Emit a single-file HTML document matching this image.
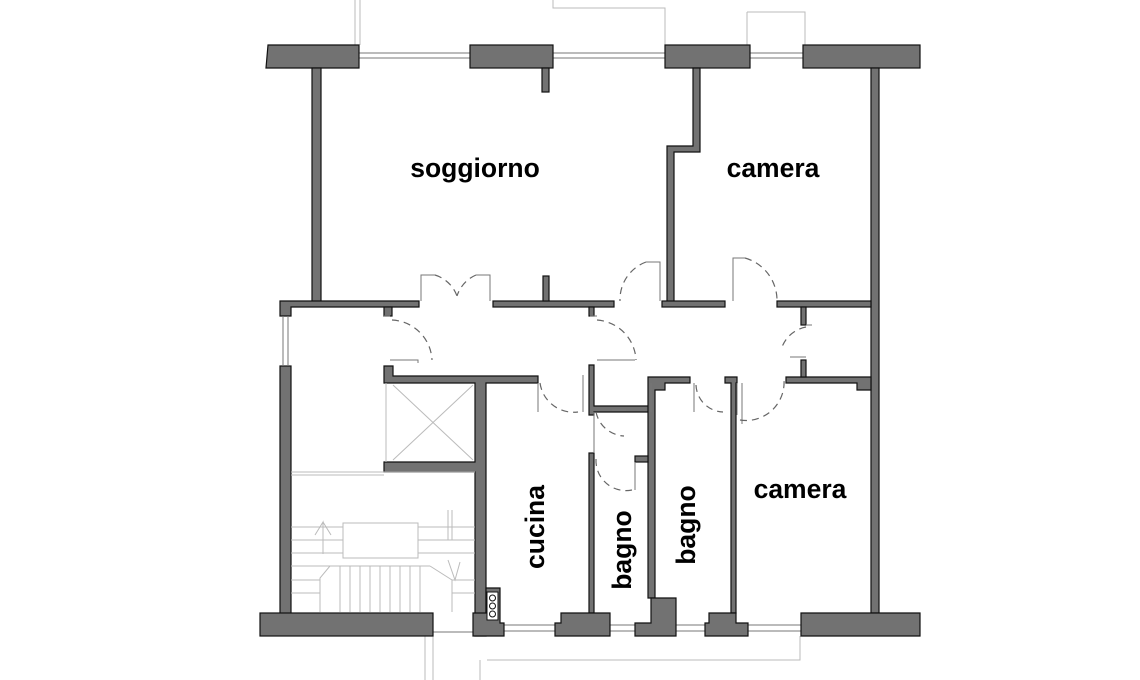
<!DOCTYPE html>
<html><head><meta charset="utf-8"><style>
html,body{margin:0;padding:0;background:#fff;width:1140px;height:680px;overflow:hidden}
svg{display:block}
.w{fill:#727272;stroke:#111;stroke-width:1.2}
.t{font-family:"Liberation Sans",Arial,sans-serif;font-weight:bold;font-size:26.5px;fill:#000}
.g{stroke:#bbb;stroke-width:1;fill:none}
.d{stroke:#666;stroke-width:1.2;fill:none;stroke-dasharray:7,5}
.j{stroke:#777;stroke-width:1;fill:none}
</style></head><body>
<svg width="1140" height="680" viewBox="0 0 1140 680">
<path class="g" d="M355 0V45M360 0V45M553 0V8H665V45M747 12H805V45M747 12V45M425 636V680M433 636V680M487 660H800V636M480 660V680"/>
<g class="j"><path d="M359 53H470M359 58H470M553 53H665M553 58H665M750 53H803M750 58H803"/></g>
<g class="j"><path d="M504 625H555M504 631H555M610 625H635M610 631H635M676 625H705M676 631H705M748 625H801M748 631H801M433 632H473"/></g>
<g class="w">
<path d="M268 45H359V68H266Z"/>
<rect x="470" y="45" width="83" height="23"/>
<rect x="542" y="68" width="7" height="24"/>
<rect x="665" y="45" width="85" height="23"/>
<rect x="803" y="45" width="117" height="23"/>
<rect x="312" y="68" width="9" height="234"/>
<path d="M693 68H700V152H674V302H667V146H693Z"/>
<rect x="871" y="68" width="8" height="545"/>
<path d="M280 301H419V307H291V316H280Z"/>
<rect x="384" y="307" width="8" height="9"/>
<rect x="493" y="301" width="121" height="6"/>
<rect x="543" y="276" width="6" height="25"/>
<rect x="589" y="307" width="5" height="9"/>
<rect x="662" y="301" width="63" height="6"/>
<rect x="777" y="301" width="94" height="6"/>
<rect x="801" y="307" width="5" height="18"/>
<rect x="280" y="366" width="11" height="250"/>
<path d="M384 366H393V376H538V383H486V636H475V472H384V462H475V383H384Z"/>
<path d="M589 365H594V406H650V412H594V415H589Z"/>
<path d="M648 377H690V383H665V390H655V598H648Z"/>
<rect x="589" y="453" width="5" height="160"/>
<rect x="635" y="456" width="13" height="6"/>
<path d="M725 377H737V383H736V613H731V383H725Z"/>
<path d="M786 377H871V390H857V383H786Z"/>
<rect x="801" y="360" width="5" height="17"/>
<rect x="260" y="613" width="173" height="23"/>
<path d="M473 613H486V588H500V623H504V636H473Z"/>
<path d="M561 613H589V613H610V636H555V623H561Z"/>
<path d="M635 623H651V598H676V636H635Z"/>
<path d="M709 613H736V623H748V636H705V623H709Z"/>
<path d="M801 613H920V636H801Z"/>
</g>
<rect x="487" y="592" width="11" height="28" fill="#fff" stroke="#111"/>
<circle cx="492.5" cy="598" r="3" fill="none" stroke="#111"/>
<circle cx="492.5" cy="606" r="3" fill="none" stroke="#111"/>
<circle cx="492.5" cy="614" r="3" fill="none" stroke="#111"/>
<path class="j" d="M283 316V366M288 316V366"/>
<path class="g" d="M393 385L473 460M473 385L393 460M386 383V462"/>
<g class="g">
<path d="M291 472H475M291 475H384"/>
<rect x="343" y="523" width="75" height="35"/>
<path d="M291 527H343M291 540H343M291 553H343M418 527H475M418 540H475M418 553H475"/>
<path d="M291 566H330L320 578V612M430 566L452 580V612"/>
<path d="M330 566H430M340 566V612M350 566V612M360 566V612M370 566V612M380 566V612M390 566V612M400 566V612M410 566V612M420 566V612"/>
<path d="M320 580H291M320 593H291M452 580H475M452 593H475"/>
<path d="M323 554V522L315 535M323 522L331 535"/>
<path d="M448 510V540M452 510V540M448 560L455 580L460 562"/>
</g>
<g class="j"><path d="M421 301V275H435M490 301V275H476M660 301V262H646M733 301V258H745M384 316H390M390 360H418V363M590 316H597M597 360H635M806 325H812M806 357H790M538 383V412M583 375V412M594 412V453M651 383V412M694 383V412M742 383V424M737 383V415M626 410H612M635 462V490"/></g>
<g class="d">
<path d="M435 275A34 34 0 0 1 457 296M476 275A34 34 0 0 0 457 296"/>
<path d="M646 262A40 40 0 0 0 620 301"/>
<path d="M745 258A44 44 0 0 1 777 301"/>
<path d="M392 320A42 42 0 0 1 432 360"/>
<path d="M597 320A42 42 0 0 1 636 360"/>
<path d="M806 327A32 32 0 0 0 781 350"/>
<path d="M540 383A34 34 0 0 0 578 412"/>
<path d="M596 412A30 30 0 0 0 624 436"/>
<path d="M596 459A30 30 0 0 0 632 490"/>
<path d="M696 385A28 28 0 0 0 723 412"/>
<path d="M740 420A38 38 0 0 0 784 380"/>
</g>
<text class="t" x="475" y="177" text-anchor="middle">soggiorno</text>
<text class="t" x="773" y="177" text-anchor="middle">camera</text>
<text class="t" x="800" y="498" text-anchor="middle">camera</text>
<text class="t" transform="translate(544,527) rotate(-90)" text-anchor="middle">cucina</text>
<text class="t" transform="translate(631,550) rotate(-90)" text-anchor="middle">bagno</text>
<text class="t" transform="translate(695,525) rotate(-90)" text-anchor="middle">bagno</text>
</svg>
</body></html>
